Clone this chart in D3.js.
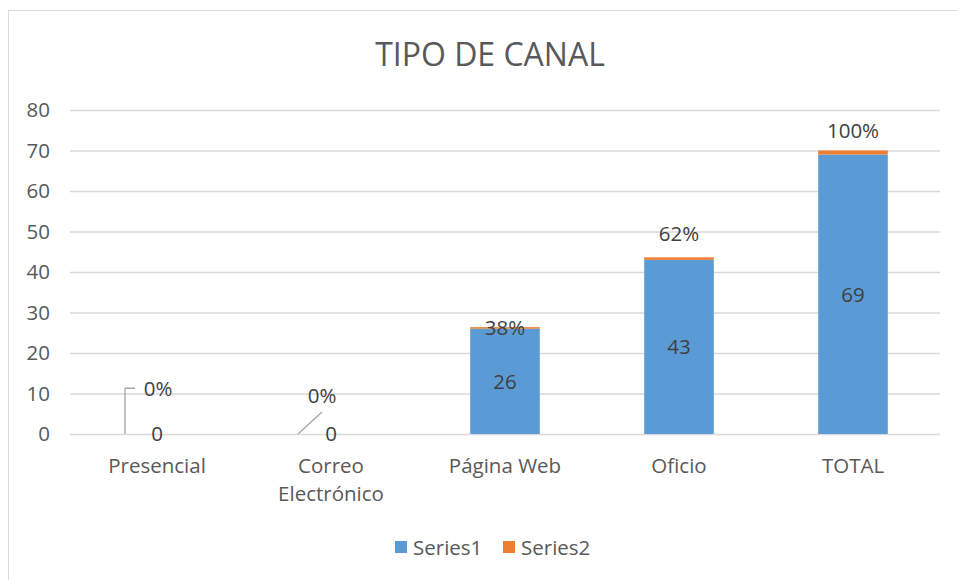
<!DOCTYPE html>
<html>
<head>
<meta charset="utf-8">
<script src="https://cdn.jsdelivr.net/npm/d3@7"></script>
<style>
  body { margin: 0; background: #fff; }
  svg text { font-family: "Open Sans", sans-serif; }
</style>
</head>
<body>
<svg id="chart" width="957" height="580"></svg>
<script>
// data
var categories = [["Presencial"], ["Correo", "Electrónico"], ["Página Web"], ["Oficio"], ["TOTAL"]];
var series1 = [0, 0, 26, 43, 69];
var series2 = [0, 0, 0.38, 0.62, 1];
var series2Labels = ["0%", "0%", "38%", "62%", "100%"];
// where Excel left the series2 labels, in chart units
var series2LabelAt = [11.3, 9.4, 26.2, 49.6, 74.8];
var yTicks = [0, 10, 20, 30, 40, 50, 60, 70, 80];
var seriesNames = ["Series1", "Series2"];

var BLUE = "#5B9BD5", ORANGE = "#ED7D31", GRID = "#D9D9D9", TXT = "#595959";
var FS = "20.5px";

var svg = d3.select("#chart");
var margin = {left: 70, right: 17, top: 110, bottom: 146};

// outer frame of the chart
svg.append("rect")
	.attr("x", 8.5).attr("y", 10.5)
	.attr("width", 960).attr("height", 600)
	.attr("fill", "#fff").attr("stroke", GRID);

var x = d3.scaleBand()
	.domain(d3.range(categories.length))
	.range([margin.left, 957 - margin.right])
	.paddingInner(0.6).paddingOuter(0.3);
var y = d3.scaleLinear().domain([0, 80]).range([434, 110]);

//title
svg.append("text")
	.attr("x", 490).attr("y", 66)
	.attr("text-anchor", "middle")
	.style("font-size", "32px").style("fill", TXT)
	.text("TIPO DE CANAL");

//grid + y labels
var yAxis = d3.axisLeft(y).tickValues(yTicks).tickSize(-(957 - margin.right - margin.left)).tickPadding(20);
var gy = svg.append("g").attr("transform", "translate(" + margin.left + ",0)").call(yAxis);
gy.select(".domain").remove();
gy.selectAll(".tick line").attr("stroke", GRID).attr("stroke-width", 1.3);
gy.selectAll(".tick text").style("font-size", FS).style("fill", TXT).style("font-family", "'Open Sans', sans-serif");

//bars
var bars = svg.append("g");
categories.forEach(function(c, i) {
	var x0 = x(i), w = x.bandwidth();
	bars.append("rect")
		.attr("x", x0).attr("width", w)
		.attr("y", y(series1[i])).attr("height", y(0) - y(series1[i]))
		.attr("fill", BLUE);
	bars.append("rect")
		.attr("x", x0).attr("width", w)
		.attr("y", y(series1[i] + series2[i])).attr("height", y(series1[i]) - y(series1[i] + series2[i]))
		.attr("fill", ORANGE);
});

//category labels
var cx = function(i) { return x(i) + x.bandwidth() / 2; };
categories.forEach(function(c, i) {
	var t = svg.append("text")
		.attr("text-anchor", "middle")
		.style("font-size", FS).style("fill", TXT);
	c.forEach(function(line, k) {
		t.append("tspan").attr("x", cx(i)).attr("y", 473 + k * 28).text(line);
	});
});

//series1 labels (centre of segment)
series1.forEach(function(v, i) {
	svg.append("text")
		.attr("x", cx(i)).attr("y", y(v / 2))
		.attr("dy", "0.36em")
		.attr("text-anchor", "middle")
		.style("font-size", FS).style("fill", "#404040")
		.text(v);
});

//series2 labels, moved by hand in the source
var lbl_dx = [1, -9, 0, 0, 0];
series2Labels.forEach(function(s, i) {
	svg.append("text")
		.attr("x", cx(i) + lbl_dx[i]).attr("y", y(series2LabelAt[i]))
		.attr("dy", "0.36em")
		.attr("text-anchor", "middle")
		.style("font-size", FS).style("fill", "#404040")
		.text(s);
});

//leader lines for the 0% labels
var leader = svg.append("g").attr("fill", "none").attr("stroke", "#A6A6A6").attr("stroke-width", 1.3);
leader.append("path")
	.attr("d", "M" + (cx(0) - 32) + "," + y(0) + "V" + y(series2LabelAt[0]) + "H" + (cx(0) - 22));
leader.append("path")
	.attr("d", "M" + (cx(1) - 33) + "," + y(0) + "L" + (cx(1) - 9) + "," + (y(series2LabelAt[1]) + 16));

//legend
var lg = svg.append("g");
var lx = [395, 503];
seriesNames.forEach(function(n, i) {
	lg.append("rect").attr("x", lx[i]).attr("y", 541).attr("width", 12).attr("height", 12)
		.attr("fill", i ? ORANGE : BLUE);
	lg.append("text").attr("x", lx[i] + 18).attr("y", 555)
		.style("font-size", FS).style("fill", TXT).text(n);
});
</script>
</body>
</html>
